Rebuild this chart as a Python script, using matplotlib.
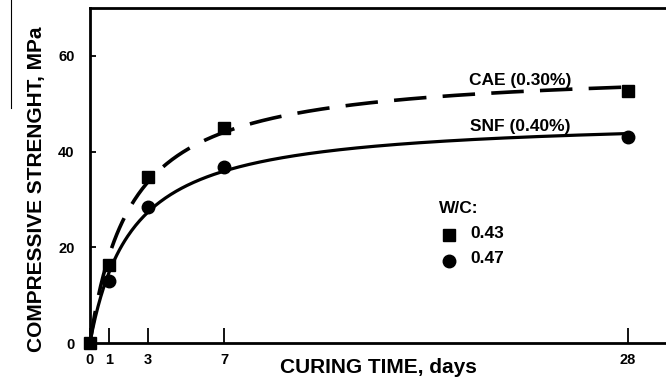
import numpy as np
import matplotlib
matplotlib.use("Agg")
import matplotlib.pyplot as plt
from matplotlib.lines import Line2D

# curing ages (days) and measured compressive strength (MPa)
days = [0, 1, 3, 7, 28]
cae_strength = [0, 16.4, 34.8, 45.0, 52.6]   # W/C 0.43, CAE 0.30 %
snf_strength = [0, 13.0, 28.5, 36.7, 43.0]   # W/C 0.47, SNF 0.40 %

x_ticks = [0, 1, 3, 7, 28]
y_ticks = [0, 20, 40, 60]

plt.rcParams['font.family'] = ['Liberation Sans', 'DejaVu Sans']
plt.rcParams['font.weight'] = 'bold'


def hyperbolic_fit(t, y):
    # least squares fit of y = a*t/(b+t), scanning b and solving a directly
    t = np.asarray(t, float)
    y = np.asarray(y, float)
    best = None
    for b in np.linspace(0.05, 10, 4000):
        f = t / (b + t)
        a = (f @ y) / (f @ f)
        err = np.sum((a * f - y) ** 2)
        if best is None or err < best[0]:
            best = (err, a, b)
    return best[1], best[2]


fig = plt.figure(figsize=(6.66, 3.85), dpi=100)
ax = fig.add_axes([0.135, 0.109, 0.865, 0.870])

tt = np.linspace(0, 28, 400)
a, b = hyperbolic_fit(days, cae_strength)
ax.plot(tt, a * tt / (b + tt), color='black', lw=2.6, dashes=(9, 4.5))
a, b = hyperbolic_fit(days, snf_strength)
ax.plot(tt, a * tt / (b + tt), color='black', lw=2.3)

ax.plot(days, cae_strength, ls='none', marker='s', ms=9, color='black', clip_on=False)
ax.plot(days[1:], snf_strength[1:], ls='none', marker='o', ms=9, color='black', clip_on=False)

ax.text(22.4, 54.9, 'CAE (0.30%)', ha='center', va='center', fontsize=12.5, fontweight='bold')
ax.text(22.4, 45.3, 'SNF (0.40%)', ha='center', va='center', fontsize=12.5, fontweight='bold')

# water/cement legend
ax.text(18.2, 28.1, 'W/C:', ha='left', va='center', fontsize=12.5, fontweight='bold')
ax.plot([18.7], [22.6], marker='s', ms=8, color='black')
ax.plot([18.7], [17.2], marker='o', ms=9, color='black')
ax.text(19.8, 22.85, '0.43', ha='left', va='center', fontsize=12.5, fontweight='bold')
ax.text(19.8, 17.6, '0.47', ha='left', va='center', fontsize=12.5, fontweight='bold')

ax.set_xlim(0, 30)
ax.set_ylim(0, 70)
ax.set_xticks(x_ticks)
ax.set_yticks(y_ticks)
ax.tick_params(axis='x', direction='in', length=10.5, width=1.3, pad=7, labelsize=10.5)
ax.tick_params(axis='y', direction='in', length=4, width=1.3, pad=11, labelsize=10.5)
for lab in ax.get_xticklabels() + ax.get_yticklabels():
    lab.set_fontweight('bold')
ax.spines['right'].set_visible(False)
for s in ['left', 'top', 'bottom']:
    ax.spines[s].set_linewidth(2.0)

ax.set_xlabel('CURING TIME, days', fontsize=15, fontweight='bold')
ax.set_ylabel('COMPRESSIVE STRENGHT, MPa', fontsize=15, fontweight='bold')
ax.xaxis.set_label_coords(0.5, -0.045)
ax.yaxis.set_label_coords(-0.077, 0.46)

# thin rule along the left margin
fig.add_artist(Line2D([0.017, 0.017], [0.72, 1.0], color='black', lw=0.8))

fig.savefig('out.png', dpi=100)
